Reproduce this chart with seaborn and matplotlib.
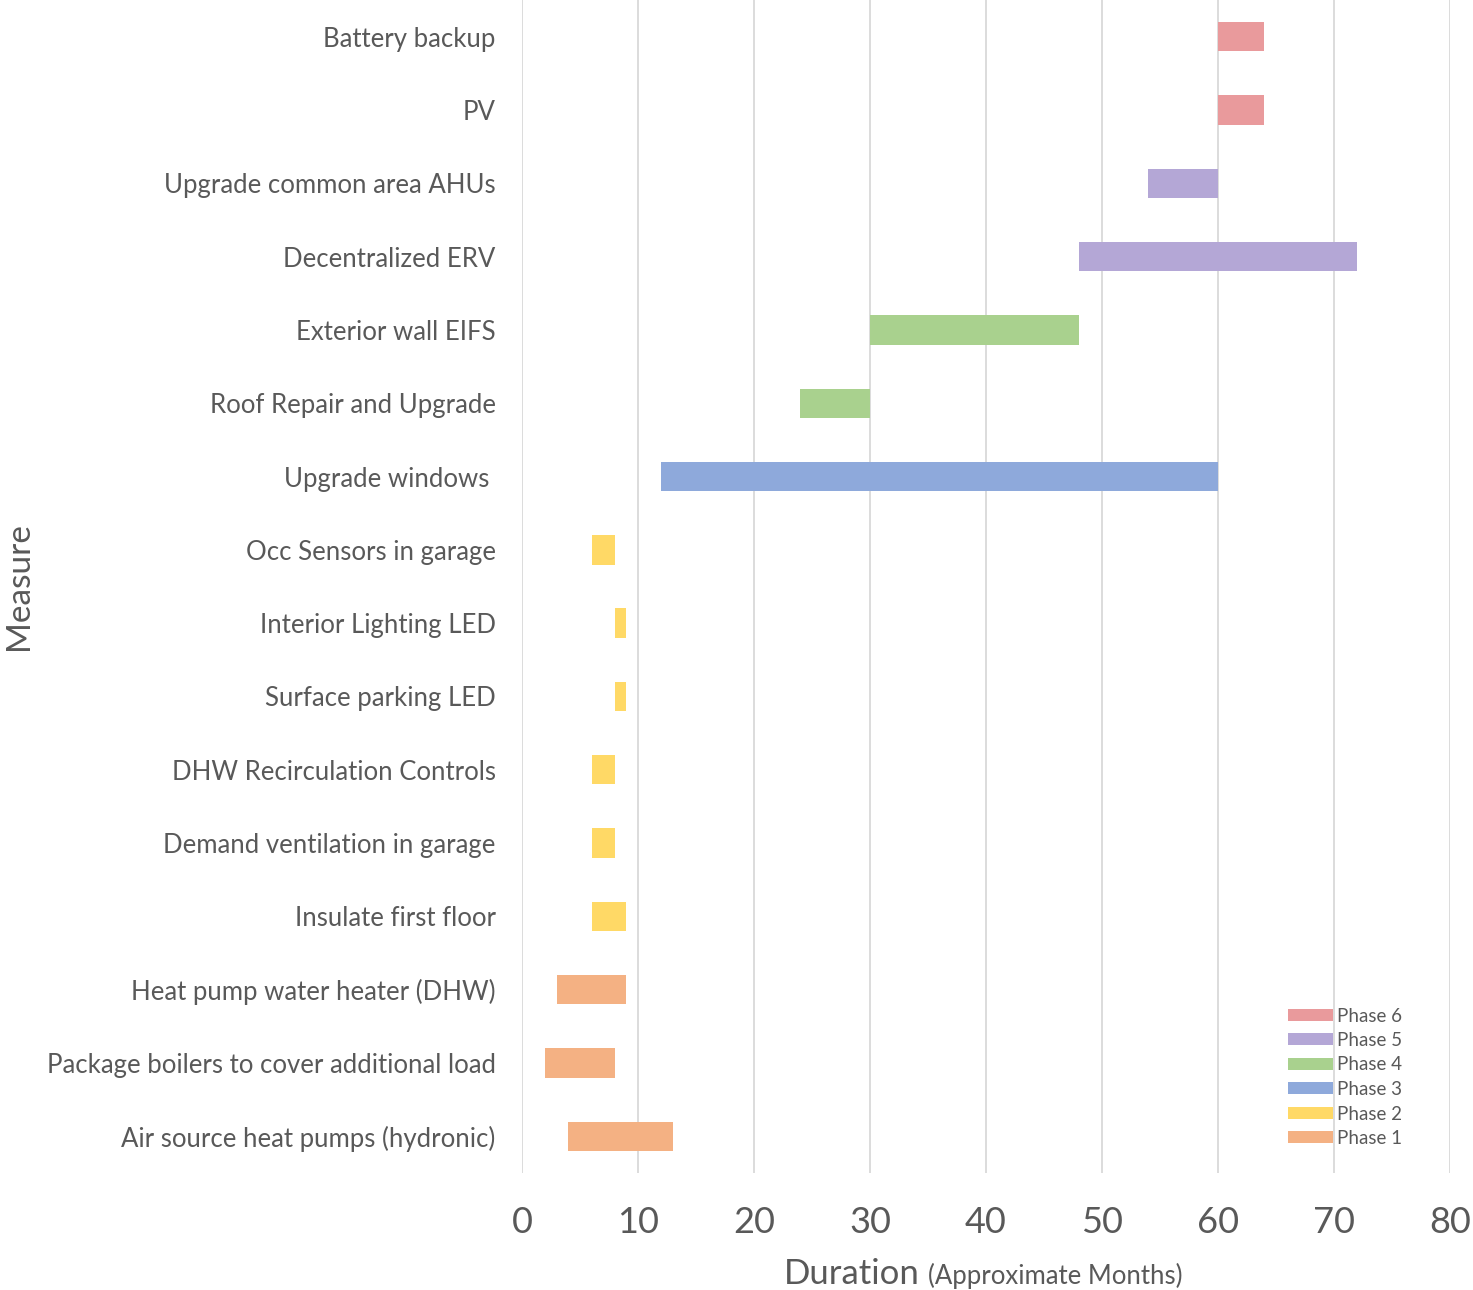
import matplotlib
matplotlib.use("Agg")
import matplotlib.pyplot as plt
import seaborn as sns
import numpy as np

# Measures listed bottom to top
measures = [
    "Air source heat pumps (hydronic)",
    "Package boilers to cover additional load",
    "Heat pump water heater (DHW)",
    "Insulate first floor",
    "Demand ventilation in garage",
    "DHW Recirculation Controls",
    "Surface parking LED",
    "Interior Lighting LED",
    "Occ Sensors in garage",
    "Upgrade windows ",
    "Roof Repair and Upgrade",
    "Exterior wall EIFS",
    "Decentralized ERV",
    "Upgrade common area AHUs",
    "PV",
    "Battery backup",
]
start_month = [4, 2, 3, 6, 6, 6, 8, 8, 6, 12, 24, 30, 48, 54, 60, 60]
end_month = [13, 8, 9, 9, 8, 8, 9, 9, 8, 60, 30, 48, 72, 60, 64, 64]
phase = [1, 1, 1, 2, 2, 2, 2, 2, 2, 3, 4, 4, 5, 5, 6, 6]

phase_names = ["Phase 6", "Phase 5", "Phase 4", "Phase 3", "Phase 2", "Phase 1"]
phase_colors = {
    1: "#F4B183",
    2: "#FFD966",
    3: "#8EA9DB",
    4: "#A9D18E",
    5: "#B4A7D6",
    6: "#E99A9C",
}
x_ticks = [0, 10, 20, 30, 40, 50, 60, 70, 80]

sns.set_theme(style="white")
plt.rcParams["font.family"] = ["Lato", "DejaVu Sans"]
text_color = "#595959"

fig = plt.figure(figsize=(14.73, 12.9), dpi=100)
ax = fig.add_axes([522 / 1473, 1 - 1173 / 1290, (1450 - 522) / 1473, 1173 / 1290])

ypos = np.arange(len(measures))
starts = np.array(start_month)
durations = np.array(end_month) - starts
phases = np.array(phase)

handles = {}
for p in [6, 5, 4, 3, 2, 1]:
    m = phases == p
    h = ax.barh(ypos[m], durations[m], left=starts[m], height=0.4,
                color=phase_colors[p], edgecolor="none", zorder=3)
    handles[p] = h

ax.set_xlim(0, 80)
ax.set_ylim(-0.5, len(measures) - 0.5)
ax.set_xticks(x_ticks)
ax.set_yticks(ypos)
ax.set_yticklabels(measures)
ax.grid(axis="x", color="#D9D9D9", linewidth=1.3, zorder=0)
ax.grid(axis="y", visible=False)
for s in ax.spines.values():
    s.set_visible(False)
ax.tick_params(axis="y", length=0, pad=19, labelsize=18.5, labelcolor=text_color)
ax.tick_params(axis="x", length=0, pad=24, labelsize=26, labelcolor=text_color)

ax.set_ylabel("Measure", fontsize=24, color=text_color, labelpad=0)
ax.yaxis.set_label_coords((4 - 522) / 928, 0.5)
ax.yaxis.label.set_va("top")

# Two-size x axis title
fig.text(920 / 1473, 1 - 1284 / 1290, "Duration", fontsize=25, color=text_color,
         ha="right", va="baseline")
fig.text(928 / 1473, 1 - 1284 / 1290, "(Approximate Months)", fontsize=18.5,
         color=text_color, ha="left", va="baseline")

leg = ax.legend([handles[p] for p in [6, 5, 4, 3, 2, 1]], phase_names,
                loc="lower right", bbox_to_anchor=((1402 - 522) / 928, (1173 - 1147) / 1173),
                frameon=False, fontsize=13.5, handlelength=2.4, handleheight=0.6,
                handletextpad=0.2, labelspacing=0.4, borderaxespad=0, borderpad=0)
for t in leg.get_texts():
    t.set_color(text_color)

fig.savefig("out.png", dpi=100)
